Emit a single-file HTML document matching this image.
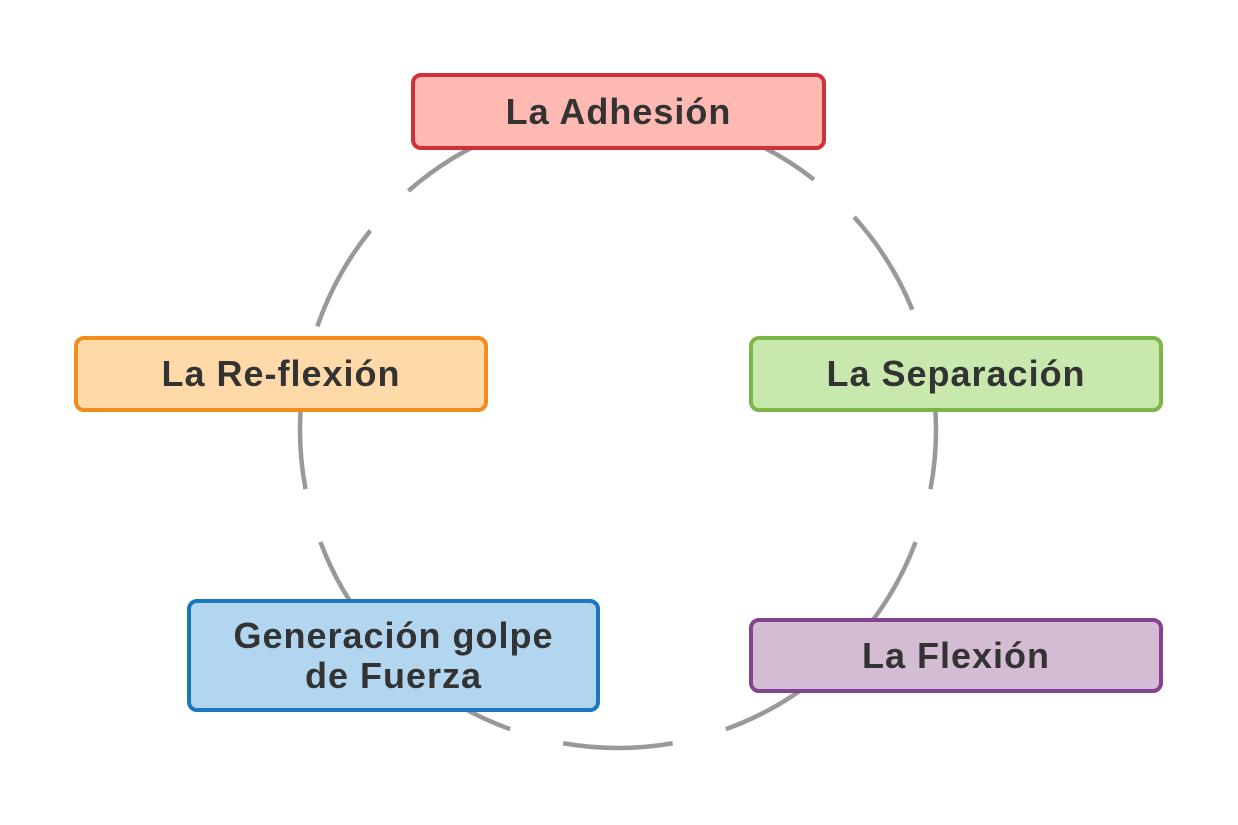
<!DOCTYPE html>
<html><head><meta charset="utf-8"><style>
body{margin:0;background:#fff;width:1238px;height:825px;position:relative;overflow:hidden;font-family:"Liberation Sans","DejaVu Sans",sans-serif}
.b{position:absolute;box-sizing:border-box;border:4px solid;border-radius:10px;display:flex;align-items:center;justify-content:center;text-align:center;font-weight:bold;font-size:36px;letter-spacing:1px;color:#333;line-height:40px}
</style></head><body>
<svg width="1238" height="825" style="position:absolute;left:0;top:0">
<circle cx="618" cy="430" r="318" fill="none" stroke="#999" stroke-width="4.5" stroke-dasharray="110 55" stroke-dashoffset="-114.5"/>
</svg>
<div class="b" style="left:411px;top:73px;width:415px;height:77px;background:#ffb9b3;border-color:#d0303a">La Adhesión</div>
<div class="b" style="left:74px;top:336px;width:414px;height:76px;background:#ffdaa8;border-color:#f28c1e">La Re-flexión</div>
<div class="b" style="left:749px;top:336px;width:414px;height:76px;background:#c8e8ae;border-color:#7ab648">La Separación</div>
<div class="b" style="left:187px;top:599px;width:413px;height:113px;background:#b3d6f0;border-color:#1a78bd">Generación golpe<br>de Fuerza</div>
<div class="b" style="left:749px;top:618px;width:414px;height:75px;background:#d4bcd4;border-color:#834491">La Flexión</div>
</body></html>
